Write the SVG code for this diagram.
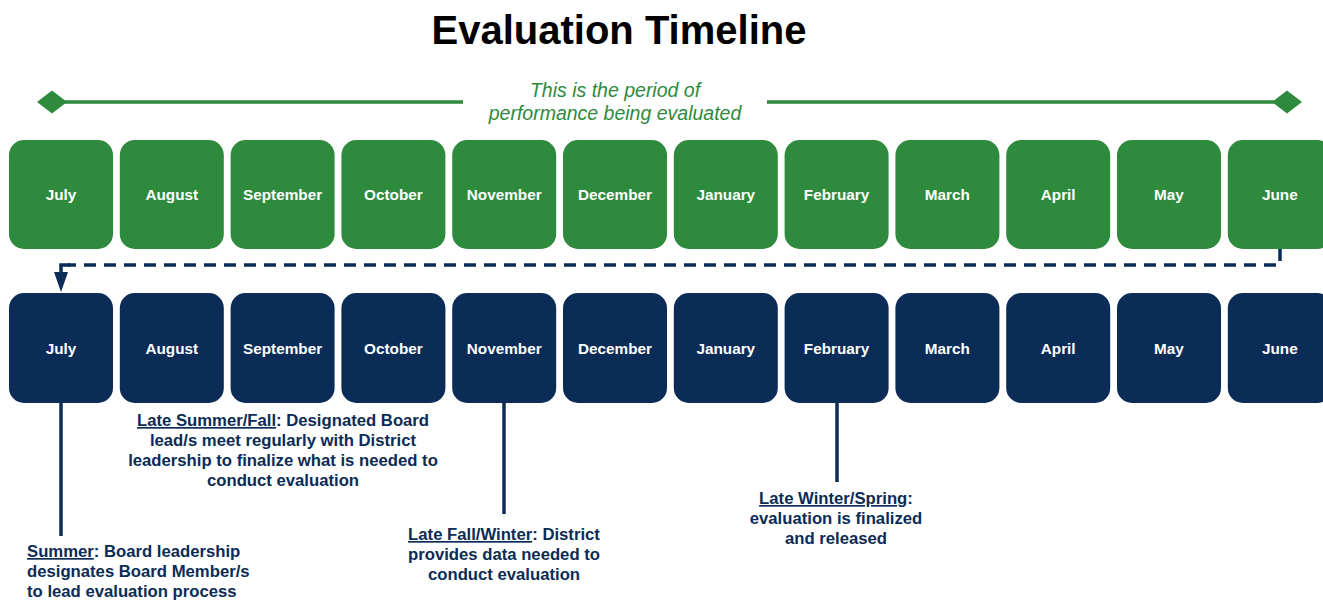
<svg xmlns="http://www.w3.org/2000/svg" width="1323" height="602" viewBox="0 0 1323 602">
<defs>
<style>
.g{fill:#2e8a3c}
.b{fill:#0b2c56}
.m{font-family:"Liberation Sans",Arial,sans-serif;font-weight:bold;font-size:15.3px;fill:#ffffff;text-anchor:middle}
.t{font-family:"Liberation Sans",Arial,sans-serif;font-weight:bold;font-size:16.7px;fill:#0b2c56}
.c{text-anchor:middle}
.u{text-decoration:underline}
.ln{stroke:#0b2c56;stroke-width:3.5;fill:none}
</style>
<marker id="arr" viewBox="0 0 20 14" refX="3" refY="7" markerWidth="20" markerHeight="14" markerUnits="userSpaceOnUse" orient="auto">
<path d="M0 0 L20 7 L0 14 Z" fill="#0b2c56"/>
</marker>
</defs>
<rect width="1323" height="602" fill="#ffffff"/>
<text x="619" y="44" font-family="Liberation Sans,Arial,sans-serif" font-weight="bold" font-size="40" fill="#000" text-anchor="middle">Evaluation Timeline</text>
<g id="period">
<line x1="60" y1="102" x2="463" y2="102" stroke="#2e8a3c" stroke-width="3.5"/>
<line x1="767" y1="102" x2="1280" y2="102" stroke="#2e8a3c" stroke-width="3.5"/>
<path d="M37 102 L52 90.5 L67 102 L52 113.5 Z" fill="#2e8a3c"/>
<path d="M1272 102 L1287 90.5 L1302 102 L1287 113.5 Z" fill="#2e8a3c"/>
<text font-family="Liberation Sans,Arial,sans-serif" font-style="italic" font-size="19.5" fill="#2e8a3c" text-anchor="middle"><tspan x="615" y="97">This is the period of</tspan><tspan x="615" y="120">performance being evaluated</tspan></text>
</g>
<g id="connectors">
<path class="ln" d="M1280 249 V265 H68" stroke-dasharray="12 8" stroke-width="3"/>
<path class="ln" d="M70 265 H61 V275" stroke-width="3" marker-end="url(#arr)"/>
<line class="ln" x1="61" y1="403" x2="61" y2="536"/>
<line class="ln" x1="504" y1="403" x2="504" y2="514"/>
<line class="ln" x1="837" y1="403" x2="837" y2="482"/>
</g>
<g id="green-months">
<g id="g-jul"><rect class="g" x="9" y="140" width="104" height="109" rx="15"/><text class="m" x="61" y="200">July</text></g>
<g id="g-aug"><rect class="g" x="119.8" y="140" width="104" height="109" rx="15"/><text class="m" x="171.8" y="200">August</text></g>
<g id="g-sep"><rect class="g" x="230.6" y="140" width="104" height="109" rx="15"/><text class="m" x="282.6" y="200">September</text></g>
<g id="g-oct"><rect class="g" x="341.4" y="140" width="104" height="109" rx="15"/><text class="m" x="393.4" y="200">October</text></g>
<g id="g-nov"><rect class="g" x="452.2" y="140" width="104" height="109" rx="15"/><text class="m" x="504.2" y="200">November</text></g>
<g id="g-dec"><rect class="g" x="563" y="140" width="104" height="109" rx="15"/><text class="m" x="615" y="200">December</text></g>
<g id="g-jan"><rect class="g" x="673.8" y="140" width="104" height="109" rx="15"/><text class="m" x="725.8" y="200">January</text></g>
<g id="g-feb"><rect class="g" x="784.6" y="140" width="104" height="109" rx="15"/><text class="m" x="836.6" y="200">February</text></g>
<g id="g-mar"><rect class="g" x="895.4" y="140" width="104" height="109" rx="15"/><text class="m" x="947.4" y="200">March</text></g>
<g id="g-apr"><rect class="g" x="1006.2" y="140" width="104" height="109" rx="15"/><text class="m" x="1058.2" y="200">April</text></g>
<g id="g-may"><rect class="g" x="1117" y="140" width="104" height="109" rx="15"/><text class="m" x="1169" y="200">May</text></g>
<g id="g-jun"><rect class="g" x="1227.8" y="140" width="104" height="109" rx="15"/><text class="m" x="1279.8" y="200">June</text></g>
</g>
<g id="blue-months">
<g id="b-jul"><rect class="b" x="9" y="293" width="104" height="110" rx="15"/><text class="m" x="61" y="354">July</text></g>
<g id="b-aug"><rect class="b" x="119.8" y="293" width="104" height="110" rx="15"/><text class="m" x="171.8" y="354">August</text></g>
<g id="b-sep"><rect class="b" x="230.6" y="293" width="104" height="110" rx="15"/><text class="m" x="282.6" y="354">September</text></g>
<g id="b-oct"><rect class="b" x="341.4" y="293" width="104" height="110" rx="15"/><text class="m" x="393.4" y="354">October</text></g>
<g id="b-nov"><rect class="b" x="452.2" y="293" width="104" height="110" rx="15"/><text class="m" x="504.2" y="354">November</text></g>
<g id="b-dec"><rect class="b" x="563" y="293" width="104" height="110" rx="15"/><text class="m" x="615" y="354">December</text></g>
<g id="b-jan"><rect class="b" x="673.8" y="293" width="104" height="110" rx="15"/><text class="m" x="725.8" y="354">January</text></g>
<g id="b-feb"><rect class="b" x="784.6" y="293" width="104" height="110" rx="15"/><text class="m" x="836.6" y="354">February</text></g>
<g id="b-mar"><rect class="b" x="895.4" y="293" width="104" height="110" rx="15"/><text class="m" x="947.4" y="354">March</text></g>
<g id="b-apr"><rect class="b" x="1006.2" y="293" width="104" height="110" rx="15"/><text class="m" x="1058.2" y="354">April</text></g>
<g id="b-may"><rect class="b" x="1117" y="293" width="104" height="110" rx="15"/><text class="m" x="1169" y="354">May</text></g>
<g id="b-jun"><rect class="b" x="1227.8" y="293" width="104" height="110" rx="15"/><text class="m" x="1279.8" y="354">June</text></g>
</g>
<g id="note-summer">
<text class="t"><tspan x="27" y="557"><tspan class="u">Summer</tspan>: Board leadership</tspan><tspan x="27" y="577">designates Board Member/s</tspan><tspan x="27" y="597">to lead evaluation process</tspan></text>
</g>
<g id="note-late-summer">
<text class="t c"><tspan x="283" y="426"><tspan class="u">Late Summer/Fall</tspan>: Designated Board</tspan><tspan x="283" y="446">lead/s meet regularly with District</tspan><tspan x="283" y="466">leadership to finalize what is needed to</tspan><tspan x="283" y="486">conduct evaluation</tspan></text>
</g>
<g id="note-late-fall">
<text class="t c"><tspan x="504" y="540"><tspan class="u">Late Fall/Winter</tspan>: District</tspan><tspan x="504" y="560">provides data needed to</tspan><tspan x="504" y="580">conduct evaluation</tspan></text>
</g>
<g id="note-late-winter">
<text class="t c"><tspan x="836" y="504"><tspan class="u">Late Winter/Spring</tspan>:</tspan><tspan x="836" y="524">evaluation is finalized</tspan><tspan x="836" y="544">and released</tspan></text>
</g>
</svg>
